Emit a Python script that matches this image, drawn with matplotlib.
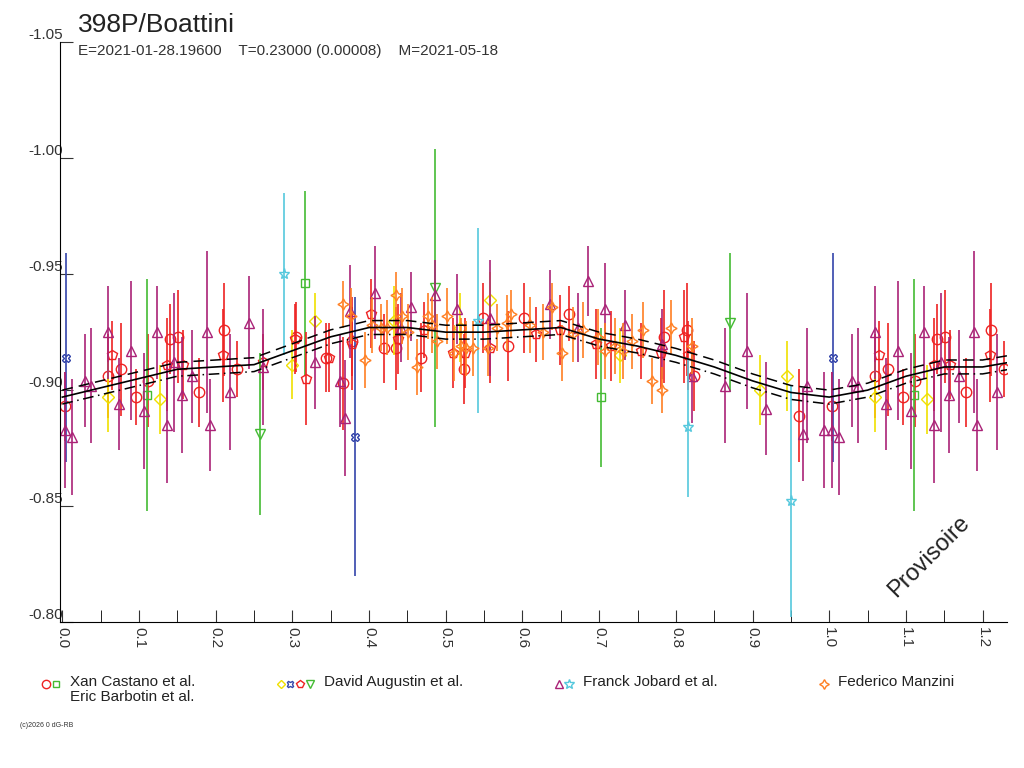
import matplotlib
matplotlib.use("Agg")
import matplotlib.pyplot as plt
import numpy as np

plt.rcParams["font.family"] = ["Liberation Sans", "DejaVu Sans"]

TITLE = "398P/Boattini"
SUBTITLE = "E=2021-01-28.19600    T=0.23000 (0.00008)    M=2021-05-18"
WRAP = 0.235  # phases below this are repeated at phase + 1

# fitted light curve (phase, value)
curve_phase = [0.0, 0.05, 0.1, 0.15, 0.2, 0.25, 0.3, 0.35, 0.4, 0.45, 0.5, 0.55, 0.6, 0.65,
               0.7, 0.75, 0.8, 0.85, 0.9, 0.95, 1.0, 1.05, 1.1, 1.15, 1.2, 1.235]
curve_mag = [-0.897, -0.901, -0.905, -0.909, -0.910, -0.911, -0.917, -0.923, -0.927, -0.927,
             -0.925, -0.925, -0.926, -0.927, -0.922, -0.919, -0.915, -0.910, -0.904, -0.899,
             -0.897, -0.900, -0.906, -0.910, -0.910, -0.912]
band = 0.003

# observations: phase, value, error
red_circle = [
    (0.003, -0.893, 0.015), (0.060, -0.906, 0.018), (0.076, -0.909, 0.02), (0.096, -0.897, 0.012),
    (0.112, -0.904, 0.02), (0.141, -0.922, 0.015), (0.151, -0.923, 0.02), (0.178, -0.899, 0.015),
    (0.211, -0.926, 0.02), (0.228, -0.909, 0.012), (0.305, -0.923, 0.015), (0.344, -0.914, 0.015),
    (0.366, -0.903, 0.02), (0.378, -0.921, 0.015), (0.419, -0.918, 0.015), (0.435, -0.918, 0.018),
    (0.468, -0.914, 0.015), (0.524, -0.909, 0.015), (0.548, -0.931, 0.015), (0.581, -0.919, 0.015),
    (0.602, -0.931, 0.015), (0.661, -0.933, 0.012), (0.785, -0.923, 0.02), (0.815, -0.926, 0.02),
    (0.824, -0.906, 0.015), (0.960, -0.889, 0.02),
]
green_square = [(0.110, -0.898, 0.05), (0.316, -0.946, 0.04), (0.703, -0.897, 0.03)]
yellow_diamond = [
    (0.060, -0.897, 0.015), (0.128, -0.896, 0.015), (0.300, -0.911, 0.015), (0.330, -0.930, 0.012),
    (0.433, -0.930, 0.015), (0.519, -0.927, 0.015), (0.558, -0.939, 0.012), (0.727, -0.915, 0.012),
    (0.910, -0.900, 0.015), (0.945, -0.906, 0.015),
]
blue_x = [(0.005, -0.914, 0.045), (0.381, -0.880, 0.06)]
red_pentagon = [
    (0.065, -0.915, 0.015), (0.136, -0.911, 0.02), (0.158, -0.911, 0.015), (0.210, -0.915, 0.02),
    (0.262, -0.912, 0.012), (0.304, -0.922, 0.015), (0.318, -0.905, 0.02), (0.348, -0.914, 0.015),
    (0.378, -0.920, 0.02), (0.403, -0.933, 0.015), (0.438, -0.922, 0.015), (0.472, -0.926, 0.012),
    (0.510, -0.916, 0.015), (0.525, -0.916, 0.015), (0.558, -0.918, 0.015), (0.618, -0.924, 0.012),
    (0.649, -0.926, 0.015), (0.696, -0.920, 0.015), (0.716, -0.919, 0.015), (0.754, -0.917, 0.012),
    (0.780, -0.916, 0.015), (0.810, -0.923, 0.02), (0.816, -0.915, 0.015),
]
green_tri = [(0.258, -0.881, 0.035), (0.486, -0.944, 0.06), (0.870, -0.929, 0.03)]
purple_tri = [
    (0.004, -0.883, 0.025), (0.013, -0.880, 0.025), (0.030, -0.904, 0.02), (0.037, -0.902, 0.025),
    (0.059, -0.925, 0.02), (0.074, -0.894, 0.02), (0.089, -0.917, 0.03), (0.106, -0.891, 0.025),
    (0.124, -0.925, 0.02), (0.136, -0.885, 0.025), (0.146, -0.912, 0.03), (0.156, -0.898, 0.025),
    (0.169, -0.906, 0.02), (0.189, -0.925, 0.035), (0.192, -0.885, 0.02), (0.219, -0.899, 0.025),
    (0.244, -0.929, 0.02), (0.262, -0.910, 0.025), (0.329, -0.912, 0.02), (0.362, -0.904, 0.02),
    (0.368, -0.888, 0.025), (0.375, -0.934, 0.02), (0.408, -0.942, 0.02), (0.441, -0.927, 0.015),
    (0.455, -0.936, 0.015), (0.486, -0.941, 0.015), (0.515, -0.935, 0.015), (0.557, -0.931, 0.025),
    (0.636, -0.937, 0.015), (0.673, -0.927, 0.015), (0.685, -0.947, 0.015), (0.707, -0.935, 0.02),
    (0.734, -0.928, 0.015), (0.782, -0.920, 0.015), (0.821, -0.906, 0.02), (0.864, -0.902, 0.025),
    (0.893, -0.917, 0.025), (0.917, -0.892, 0.02), (0.966, -0.881, 0.02), (0.971, -0.902, 0.025),
    (0.993, -0.883, 0.025),
]
cyan_star = [(0.289, -0.950, 0.035), (0.542, -0.930, 0.04), (0.816, -0.884, 0.03), (0.950, -0.852, 0.05)]
orange_star = [
    (0.366, -0.937, 0.01), (0.377, -0.932, 0.012), (0.395, -0.913, 0.012), (0.404, -0.928, 0.012),
    (0.415, -0.927, 0.01), (0.424, -0.927, 0.012), (0.435, -0.941, 0.01), (0.443, -0.932, 0.012),
    (0.451, -0.925, 0.012), (0.462, -0.910, 0.012), (0.477, -0.932, 0.01), (0.482, -0.928, 0.012),
    (0.489, -0.921, 0.012), (0.501, -0.932, 0.012), (0.511, -0.916, 0.012), (0.520, -0.919, 0.012),
    (0.527, -0.918, 0.012), (0.536, -0.918, 0.012), (0.555, -0.918, 0.012), (0.567, -0.927, 0.01),
    (0.580, -0.929, 0.012), (0.585, -0.933, 0.01), (0.610, -0.928, 0.012), (0.627, -0.925, 0.012),
    (0.639, -0.936, 0.01), (0.651, -0.916, 0.012), (0.666, -0.924, 0.012), (0.679, -0.926, 0.012),
    (0.699, -0.923, 0.012), (0.708, -0.917, 0.012), (0.720, -0.919, 0.012), (0.731, -0.917, 0.012),
    (0.743, -0.921, 0.012), (0.757, -0.926, 0.012), (0.769, -0.904, 0.01), (0.782, -0.900, 0.01),
    (0.793, -0.927, 0.012), (0.821, -0.919, 0.012),
]

SERIES = [
    (red_circle, "o", "#ee2222", 7.5),
    (green_square, "s", "#44bb33", 6),
    (yellow_diamond, "D", "#f0e000", 6),
    (blue_x, "X", "#3344aa", 6),
    (red_pentagon, "p", "#ee2222", 7.5),
    (green_tri, "v", "#44bb33", 7),
    (purple_tri, "^", "#aa2277", 7),
    (cyan_star, "*", "#55c8dd", 8),
    (orange_star, (4, 1, 0), "#ff7f22", 8),
]


def expand(points):
    arr = np.array(points, dtype=float)
    extra = arr[arr[:, 0] < WRAP].copy()
    extra[:, 0] += 1.0
    return np.vstack([arr, extra])


fig = plt.figure(figsize=(10.24, 7.68), dpi=100)
ax = fig.add_axes([0.0586, 0.190, 0.925, 0.755])

for pts, marker, color, ms in SERIES:
    d = expand(pts)
    ax.errorbar(d[:, 0], d[:, 1], yerr=d[:, 2], fmt="none", ecolor=color, elinewidth=1.2)
    ax.plot(d[:, 0], d[:, 1], linestyle="none", marker=marker, markersize=ms,
            markerfacecolor="none", markeredgecolor=color, markeredgewidth=1.0)

cp = np.array(curve_phase)
cm = np.array(curve_mag)
ax.plot(cp, cm, color="black", lw=1.2)
ax.plot(cp, cm - band, color="black", lw=1.1, ls=(0, (7, 4)))
ax.plot(cp, cm + band, color="black", lw=1.1, ls=(0, (7, 3, 1, 3)))

ax.set_xlim(-0.003, 1.232)
ax.set_ylim(-0.80, -1.05)
ax.set_yticks(np.arange(-1.05, -0.799, 0.05))
ax.set_yticklabels([f"{v:.2f}" for v in np.arange(-1.05, -0.799, 0.05)])
ax.set_xticks(np.arange(0, 1.21, 0.1))
ax.set_xticks(np.arange(0.05, 1.21, 0.1), minor=True)
ax.set_xticklabels([f"{v:.1f}" for v in np.arange(0, 1.21, 0.1)], rotation=-90)
ax.tick_params(axis="both", direction="in", length=9, labelsize=11, colors="#333333")
ax.tick_params(axis="x", which="minor", direction="in", length=9)
ax.tick_params(axis="y", pad=-2)
for lab in ax.get_yticklabels():
    lab.set_verticalalignment("bottom")
ax.spines["top"].set_visible(False)
ax.spines["right"].set_visible(False)

fig.text(0.076, 0.958, TITLE, fontsize=19, color="#222222")
fig.text(0.076, 0.928, SUBTITLE, fontsize=11, color="#333333")
ax.text(0.965, 0.035, "Provisoire", transform=ax.transAxes, rotation=45, fontsize=17,
        ha="right", va="bottom", color="#222222")

# legend
legend_rows = [
    (0.045, [("o", "#ee2222", 6), ("s", "#44bb33", 5)], "Xan Castano et al.\nEric Barbotin et al."),
    (0.274, [("D", "#f0e000", 4.5), ("X", "#3344aa", 5), ("p", "#ee2222", 6), ("v", "#44bb33", 5.5)],
     "David Augustin et al."),
    (0.546, [("^", "#aa2277", 5.5), ("*", "#55c8dd", 7)], "Franck Jobard et al."),
    (0.805, [((4, 1, 0), "#ff7f22", 7)], "Federico Manzini"),
]
for x0, marks, label in legend_rows:
    for i, (m, c, ms) in enumerate(marks):
        fig.lines.append(plt.Line2D([x0 + i * 0.0095], [0.110], marker=m, markersize=ms,
                                    markerfacecolor="none", markeredgecolor=c,
                                    transform=fig.transFigure))
    fig.text(x0 + len(marks) * 0.0095 + 0.004, 0.121, label, fontsize=11, va="top",
             color="#222222", linespacing=1.1)

fig.text(0.02, 0.054, "(c)2026 0 dG-RB", fontsize=5, color="#333333")

fig.savefig("out.png", dpi=100)
